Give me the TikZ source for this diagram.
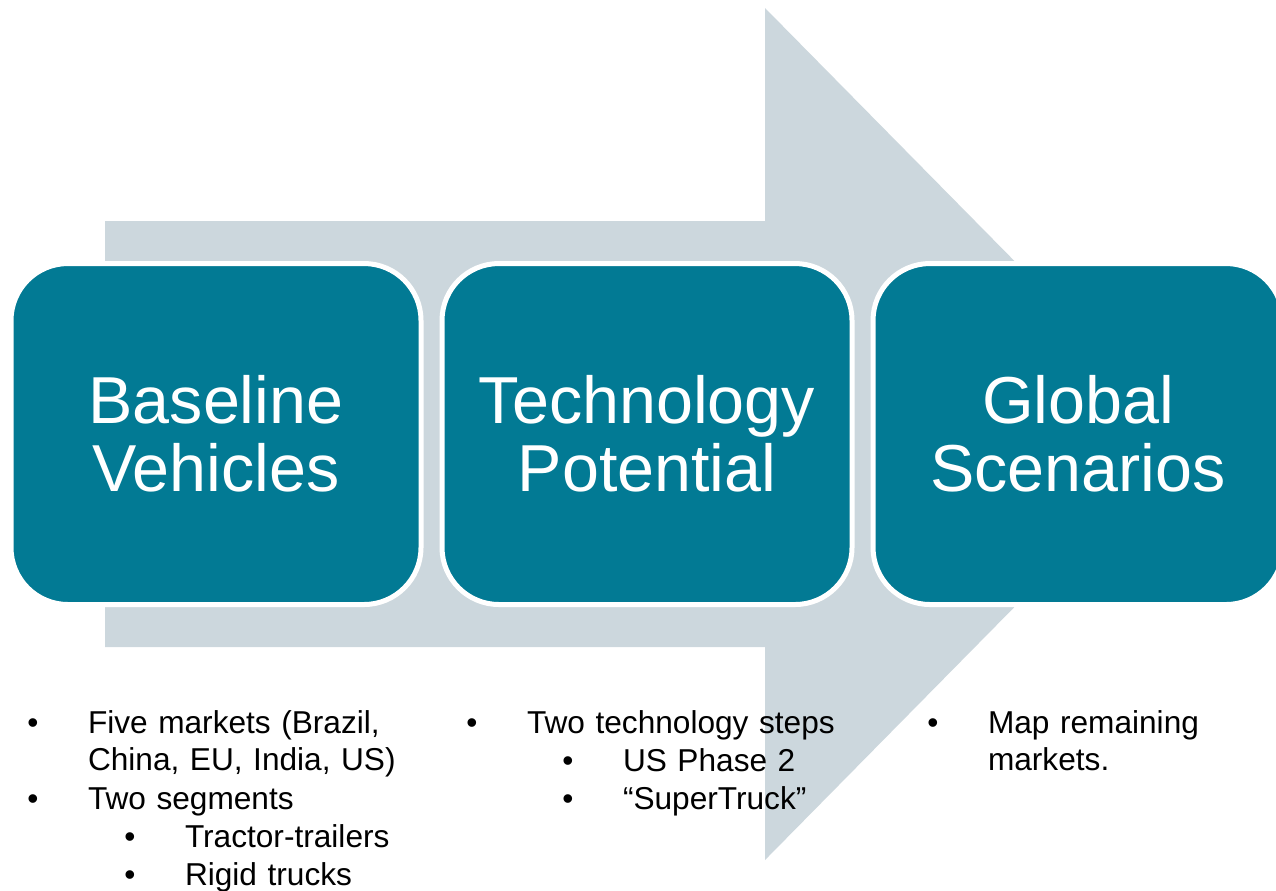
\documentclass[tikz,border=0pt]{standalone}
\usepackage{fontspec}
\setmainfont{Liberation Sans}
\usetikzlibrary{positioning}

\definecolor{stageteal}{RGB}{2,122,148}
\definecolor{flowgrey}{RGB}{204,215,221}

\begin{document}
\begin{tikzpicture}[x=0.1mm, y=-0.1mm,
    stage/.style={draw=white, line width=0.5mm, fill=stageteal, rounded corners=5.7mm,
      minimum width=41mm, minimum height=34.1mm, inner sep=0pt,
      text=white, align=center, font=\fontsize{18.9}{19.4}\selectfont},
    item/.style={anchor=base west, inner sep=0pt, outer sep=0pt, text width=36mm,
      align=left, font=\fontsize{9}{10.8}\selectfont},
    dot/.style={inner sep=0pt, outer sep=0pt, font=\fontsize{9}{10.8}\selectfont}]
  \clip (0,0) rectangle (1276,890);

  % Big background arrow
  \fill[flowgrey] (105,221) -- (765,221) -- (765,8) -- (1185,434)
    -- (765,860) -- (765,647) -- (105,647) -- cycle;

  % Stages
  \node[stage] (baseline)   at (216,434)  {Baseline\\Vehicles};
  \node[stage] (technology) at (647,434)  {Technology\\Potential};
  \node[stage] (global)     at (1078,434) {Global\\Scenarios};

  % Notes below the stages
  \node[item] (markets)    at (88,733)  {Five markets (Brazil,\\China, EU, India, US)};
  \node[item] (segments)   at (88,809)  {Two segments};
  \node[item] (tractors)   at (185,847) {Tractor-trailers};
  \node[item] (rigid)      at (185,885) {Rigid trucks};
  \node[item] (steps)      at (527,733) {Two technology steps};
  \node[item] (phasetwo)   at (623,771) {US Phase 2};
  \node[item] (supertruck) at (623,809) {“SuperTruck”};
  \node[item] (remaining)  at (988,733) {Map remaining\\markets.};

  % Bullets
  \foreach \n in {markets, segments, tractors, rigid, steps, phasetwo, supertruck, remaining}
    \node[dot, base left=4.95mm of \n] (\n-dot) {•};
\end{tikzpicture}
\end{document}
